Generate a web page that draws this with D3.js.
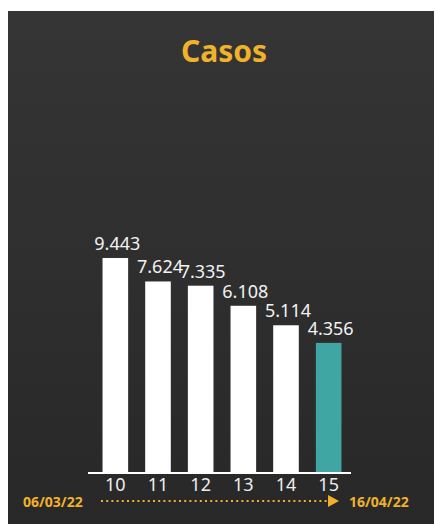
<!DOCTYPE html>
<html>
<head>
<meta charset="utf-8">
<script src="https://cdn.jsdelivr.net/npm/d3@7"></script>
<style>
  html, body { margin: 0; padding: 0; background: #ffffff; }
  svg { display: block; }
</style>
</head>
<body>
<script>
const title = "Casos";
const weeks = ["10", "11", "12", "13", "14", "15"];
const cases = [9443, 7624, 7335, 6108, 5114, 4356];
const valueLabels = ["9.443", "7.624", "7.335", "6.108", "5.114", "4.356"];
const startDate = "06/03/22";
const endDate = "16/04/22";

const W = 436, H = 524;
const svg = d3.select("body").append("svg").attr("width", W).attr("height", H);

const defs = svg.append("defs");
const grad = defs.append("linearGradient").attr("id", "bg").attr("x1", 0).attr("y1", 0).attr("x2", 0).attr("y2", 1);
grad.append("stop").attr("offset", "0%").attr("stop-color", "#353535");
grad.append("stop").attr("offset", "100%").attr("stop-color", "#282828");

svg.append("rect").attr("x", 8).attr("y", 11).attr("width", 426).attr("height", 513).attr("fill", "url(#bg)");

svg.append("text").attr("x", 224).attr("y", 62).attr("text-anchor", "middle")
  .attr("font-family", "'Noto Sans', sans-serif").attr("font-weight", 700)
  .attr("font-size", 30).attr("fill", "#f0b22a").text(title);

const x = d3.scaleBand().domain(weeks).range([94, 350]).paddingInner(0.4).paddingOuter(0.2);
const baseY = 472;
const y = d3.scaleLog().domain([1.342, 9.443]).range([baseY, baseY - 214]);

const g = svg.append("g");
g.selectAll("rect.bar").data(weeks).join("rect").attr("class", "bar")
  .attr("x", d => x(d))
  .attr("width", x.bandwidth())
  .attr("y", (d, i) => y(cases[i] / 1000))
  .attr("height", (d, i) => baseY - y(cases[i] / 1000))
  .attr("fill", (d, i) => i === weeks.length - 1 ? "#3fa6a3" : "#ffffff");

g.selectAll("text.val").data(weeks).join("text").attr("class", "val")
  .attr("x", d => x(d) + x.bandwidth() / 2 + 2)
  .attr("y", (d, i) => y(cases[i] / 1000) - 8)
  .attr("text-anchor", "middle")
  .attr("font-family", "'Noto Sans', sans-serif")
  .attr("font-size", 18).attr("fill", "#f2f2f2")
  .text((d, i) => valueLabels[i]);

const axis = svg.append("g").attr("transform", `translate(0,${baseY})`)
  .call(d3.axisBottom(x).tickSize(0).tickPadding(6));
axis.select(".domain").remove();
axis.append("line").attr("x1", 88).attr("x2", 351).attr("y1", 1).attr("y2", 1)
  .attr("stroke", "#ffffff").attr("stroke-width", 2);
axis.selectAll(".tick text")
  .attr("font-family", "'Noto Sans', sans-serif").attr("font-size", 18)
  .attr("fill", "#eeeeee");

svg.append("text").attr("x", 23).attr("y", 507)
  .attr("font-family", "'Noto Sans', sans-serif").attr("font-weight", 700)
  .attr("font-size", 14).attr("fill", "#f0b22a").text(startDate);
svg.append("text").attr("x", 349).attr("y", 507)
  .attr("font-family", "'Noto Sans', sans-serif").attr("font-weight", 700)
  .attr("font-size", 14).attr("fill", "#f0b22a").text(endDate);

svg.append("line").attr("x1", 101).attr("x2", 328).attr("y1", 501).attr("y2", 501)
  .attr("stroke", "#f0b22a").attr("stroke-width", 2.2)
  .attr("stroke-dasharray", "2,3.2");
svg.append("path").attr("d", "M328,495 L339,501 L328,507 Z").attr("fill", "#f0b22a");
</script>
</body>
</html>
